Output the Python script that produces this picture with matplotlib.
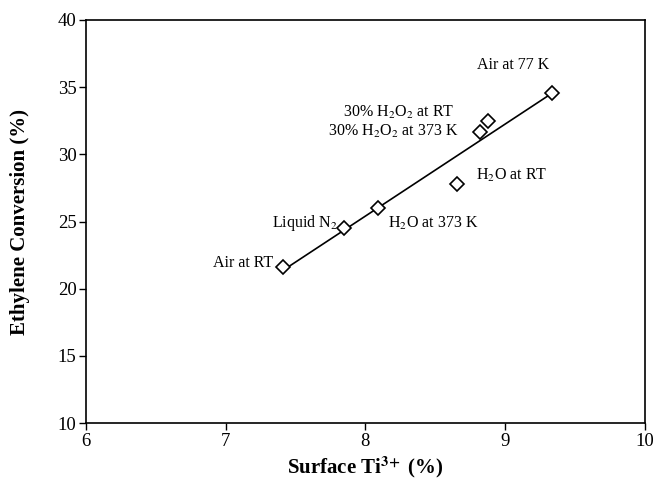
import matplotlib.pyplot as plt
import numpy as np

plt.rcParams['font.family'] = 'Liberation Serif'
plt.rcParams['mathtext.fontset'] = 'stix'

# surface Ti3+ (%) vs ethylene conversion (%)
treatments = ['Air at RT', 'Liquid N$_2$', 'H$_2$O at 373 K', 'H$_2$O at RT',
              '30% H$_2$O$_2$ at 373 K', '30% H$_2$O$_2$ at RT', 'Air at 77 K']
ti3 = np.array([7.41, 7.85, 8.09, 8.66, 8.82, 8.88, 9.34])
conversion = np.array([21.6, 24.5, 26.0, 27.8, 31.7, 32.5, 34.6])
label_x = [6.91, 7.33, 8.16, 8.79, 7.73, 7.84, 8.80]
label_y = [21.9, 24.88, 24.88, 28.46, 31.73, 33.15, 36.65]

fig = plt.figure(figsize=(6.53, 4.87), dpi=100)
ax = fig.add_axes([0.132, 0.131, 0.855, 0.828])

slope, intercept = np.polyfit(ti3, conversion, 1)
xs = np.array([ti3.min(), ti3.max()])
ax.plot(xs, slope * xs + intercept, color='black', lw=1.2)
ax.plot(ti3, conversion, 'D', ms=7, mfc='white', mec='black', mew=1.2)

for name, lx, ly in zip(treatments, label_x, label_y):
    ax.text(lx, ly, name, fontsize=11.5, va='center', ha='left')

ax.set_xlim(6, 10)
ax.set_ylim(10, 40)
ax.set_xticks([6, 7, 8, 9, 10])
ax.set_yticks([10, 15, 20, 25, 30, 35, 40])
ax.tick_params(direction='out', length=5, labelsize=13.5, width=1, pad=2)
for s in ax.spines.values():
    s.set_linewidth(1.2)

ax.set_xlabel(r'Surface Ti$^{\mathbf{3\!+}}$ (%)', fontsize=15, fontweight='bold', labelpad=3)
ax.set_ylabel('Ethylene Conversion (%)', fontsize=15, fontweight='bold', labelpad=20)

plt.savefig('out.png')
